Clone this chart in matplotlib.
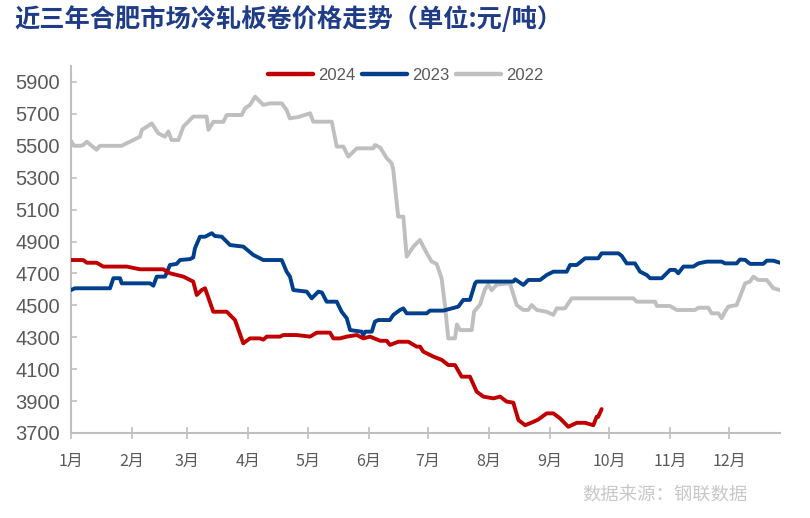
import matplotlib
matplotlib.use("Agg")
import matplotlib.pyplot as plt

# day of year (0 = Jan 1) and price
days_2022 = [0, 1.5, 5, 6.2, 8, 13, 14.7, 25.7, 35, 36, 41, 44.3, 47.7, 49.4, 51, 54.5, 57, 62,
             68.8, 69.7, 72.2, 77.3, 79, 86.6, 88.3, 90.8, 93.4, 97.6, 101, 106.9, 109.4, 111,
             115.3, 121.3, 122.9, 132.3, 134.8, 138.2, 140.7, 145, 153.4, 154.2, 156.8, 160.2,
             162.7, 163.5, 166, 168.6, 170.3, 173.7, 177, 180.5, 183, 185.5, 188, 189.8, 191.4,
             194.8, 195.8, 197.4, 203.3, 204.5, 207.5, 210, 211.7, 213.4, 216, 222.7, 226.1,
             229.5, 232, 233.7, 236.3, 241.3, 244.7, 246.4, 250.6, 254, 285.3, 287, 296.3, 297.2,
             303.9, 307.3, 316.6, 318.3, 323.3, 325, 328.4, 330.1, 331.8, 333.5, 337.7, 339.4,
             342, 344.5, 346.2, 348.7, 353, 356.3, 359.7]
price_2022 = [5530, 5500, 5500, 5505, 5525, 5475, 5500, 5500, 5557, 5600, 5640, 5578, 5557, 5590,
              5536, 5536, 5620, 5683, 5683, 5600, 5650, 5650, 5693, 5693, 5735, 5756, 5808, 5756,
              5766, 5766, 5724, 5672, 5680, 5704, 5651, 5651, 5495, 5495, 5432, 5484, 5484, 5505,
              5490, 5422, 5390, 5348, 5056, 5056, 4805, 4868, 4910, 4826, 4774, 4760, 4670, 4492,
              4293, 4293, 4380, 4345, 4345, 4460, 4505, 4600, 4630, 4595, 4630, 4638, 4502, 4471,
              4471, 4502, 4471, 4460, 4440, 4481, 4481, 4544, 4544, 4523, 4523, 4496, 4496, 4471,
              4471, 4485, 4485, 4450, 4450, 4419, 4460, 4492, 4502, 4555, 4638, 4649, 4680, 4659,
              4659, 4607, 4596]

days_2023 = [0, 2, 19.8, 21.5, 24.9, 25.7, 40.1, 41.8, 43.5, 47.7, 50.2, 53.6, 55.3, 60.4, 62,
             62.9, 65.4, 68, 71.4, 73, 76.5, 80.7, 87.4, 92.5, 97.6, 106.9, 109.4, 111.1, 112.8,
             119.6, 122.1, 125.5, 127.3, 129.7, 134.8, 137.3, 139.9, 141.6, 147.5, 148.3, 149.2,
             152.6, 154.2, 155.9, 161.8, 163.5, 166.9, 168.6, 170.3, 180.5, 182.1, 188.9, 196.5,
             199, 202.4, 205, 205.8, 224.4, 225.3, 229.5, 232, 238, 241.3, 244.7, 251.5, 253.2,
             256.6, 260.8, 267.5, 269.2, 277.7, 279.4, 281.9, 286.1, 288.7, 292.1, 293.8, 299.7,
             302.2, 303.9, 306.5, 308.1, 310.7, 315.7, 318.3, 322.5, 330.1, 331.8, 337.7, 339.4,
             342, 344.5, 351.2, 353, 356.3, 359.7]
price_2023 = [4596, 4607, 4607, 4670, 4670, 4638, 4638, 4623, 4680, 4680, 4753, 4760, 4784, 4790,
              4800, 4858, 4930, 4930, 4952, 4935, 4930, 4878, 4868, 4816, 4784, 4784, 4711, 4680,
              4596, 4586, 4544, 4586, 4580, 4523, 4523, 4460, 4419, 4345, 4335, 4314, 4335, 4335,
              4398, 4408, 4408, 4440, 4471, 4481, 4450, 4450, 4467, 4467, 4492, 4534, 4534, 4638,
              4649, 4649, 4663, 4628, 4659, 4659, 4690, 4711, 4711, 4753, 4753, 4795, 4795, 4826,
              4826, 4810, 4763, 4763, 4711, 4690, 4670, 4670, 4701, 4722, 4722, 4701, 4743, 4743,
              4763, 4774, 4774, 4763, 4763, 4787, 4785, 4760, 4760, 4780, 4780, 4767]

days_2024 = [0, 6.2, 8, 13, 16.4, 28.3, 35, 46.8, 50.2, 57, 62, 63.8, 66.3, 68, 72.2, 79, 83.2,
             87.4, 90.8, 95.9, 97.6, 99.3, 106, 107.7, 114.5, 121.3, 124.7, 131.4, 133.1, 136.5,
             139.9, 145, 148.3, 151.7, 156.8, 160.2, 161.8, 166.1, 171.1, 175.4, 177.1, 178.7,
             183.8, 188.1, 191.4, 194.8, 198.2, 202.4, 205.8, 209.2, 214.3, 217.7, 221, 224.4,
             227, 230.4, 234.6, 237.1, 241.3, 244.7, 248.1, 252.3, 256.6, 260.8, 265, 266.7,
             267.4, 269.2]
price_2024 = [4784, 4784, 4767, 4767, 4743, 4743, 4726, 4726, 4701, 4680, 4649, 4565, 4596, 4607,
              4460, 4460, 4408, 4262, 4293, 4293, 4285, 4304, 4304, 4314, 4314, 4304, 4329, 4329,
              4293, 4293, 4304, 4314, 4293, 4304, 4278, 4278, 4252, 4272, 4272, 4241, 4241, 4210,
              4179, 4158, 4126, 4126, 4053, 4053, 3959, 3928, 3917, 3928, 3897, 3890, 3781, 3749,
              3770, 3785, 3823, 3823, 3792, 3739, 3764, 3764, 3749, 3802, 3800, 3850]

month_starts = [0, 31, 59, 90, 120, 151, 181, 212, 243, 273, 304, 334]
month_labels = ["1月", "2月", "3月", "4月", "5月", "6月", "7月", "8月", "9月", "10月", "11月", "12月"]
y_ticks = list(range(3700, 6000, 200))

CJK = ["Noto Sans CJK SC", "DejaVu Sans"]
NUM = ["Liberation Sans", "DejaVu Sans"]
axis_grey = "#bfbfbf"
text_grey = "#595959"

fig = plt.figure(figsize=(8.1, 5.18), dpi=100)
ax = fig.add_axes([71 / 810, 1 - 433 / 518, (780 - 71) / 810, (433 - 66) / 518])

ax.plot(days_2024, price_2024, color="#c00000", lw=2.8, label="2024", zorder=4,
        solid_joinstyle="round", solid_capstyle="round")
ax.plot(days_2023, price_2023, color="#003f8c", lw=2.8, label="2023", zorder=3,
        solid_joinstyle="round", solid_capstyle="round")
ax.plot(days_2022, price_2022, color="#bfbfbf", lw=2.8, label="2022", zorder=2,
        solid_joinstyle="round", solid_capstyle="round")

ax.set_xlim(0, 359.7)
ax.set_ylim(3700, 6000)
ax.set_yticks(y_ticks)
ax.set_yticklabels([str(v) for v in y_ticks], family=NUM, fontsize=14.5, color=text_grey)
ax.set_xticks(month_starts)
ax.set_xticklabels(month_labels, family=CJK, fontsize=11.5, color=text_grey)

for side in ["top", "right"]:
    ax.spines[side].set_visible(False)
for side in ["left", "bottom"]:
    ax.spines[side].set_color(axis_grey)
    ax.spines[side].set_linewidth(1.5)

ax.tick_params(axis="y", direction="in", length=4, width=1.2, color=axis_grey, pad=8)
ax.tick_params(axis="x", direction="inout", length=9, width=1.2, color=axis_grey, pad=10)

leg = ax.legend(loc="center", bbox_to_anchor=(0.472, 0.974), ncol=3, frameon=False,
                handlelength=2.7, handletextpad=0.3, columnspacing=0.4,
                prop={"family": NUM, "size": 12})
for t in leg.get_texts():
    t.set_color(text_grey)
for h in leg.get_lines():
    h.set_linewidth(3.2)

fig.text(14 / 810, 1 - 20 / 518, "近三年合肥市场冷轧板卷价格走势（单位:元/吨）",
         family=CJK, fontsize=18.2, fontweight="bold", color="#1f3c88", ha="left", va="center")
fig.text(748 / 810, 1 - 496 / 518, "数据来源：钢联数据", family=CJK, fontsize=13.2,
         color="#c8c8c8", ha="right", va="center")

fig.savefig("out.png", dpi=100)
